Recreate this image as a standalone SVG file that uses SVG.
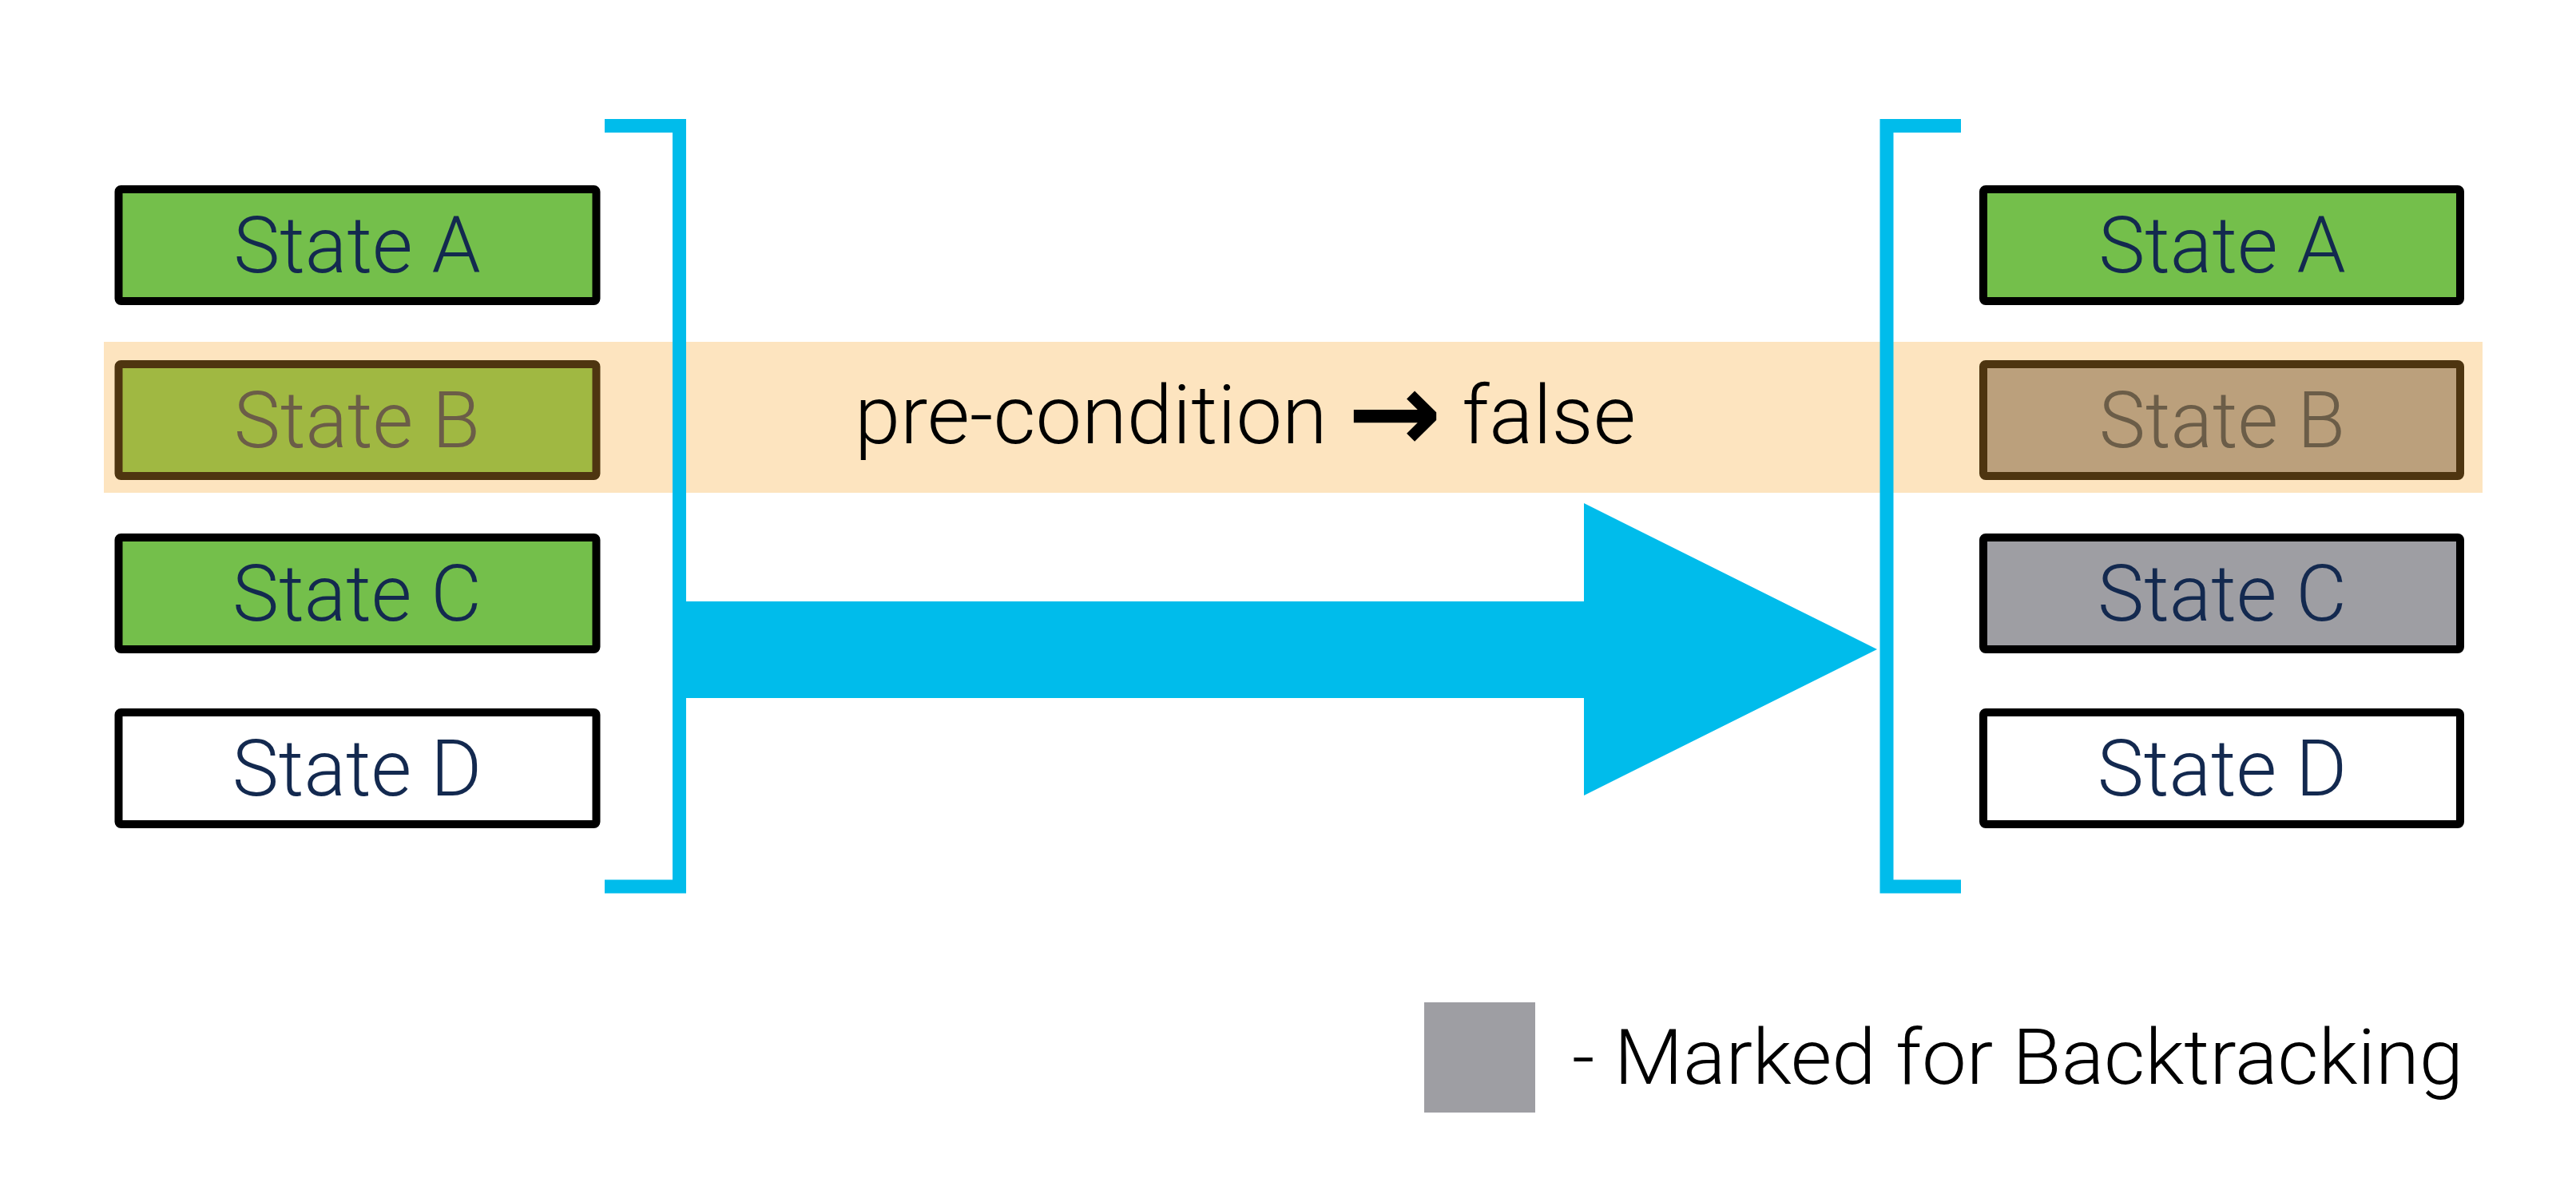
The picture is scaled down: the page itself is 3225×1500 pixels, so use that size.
<svg xmlns="http://www.w3.org/2000/svg" width="3225" height="1500" viewBox="0 0 3225 1500">
<style>
.box{stroke:#000;stroke-width:10}
.lbl{font-family:Roboto,"Liberation Sans",sans-serif;font-weight:300;font-size:98px;text-anchor:middle;fill:#13294f}
.lblb{fill:#6b5d48}
.brk{fill:none;stroke:#00bceb;stroke-width:17;stroke-linejoin:miter}
.txt{font-family:Roboto,"Liberation Sans",sans-serif;font-weight:300;fill:#000}
</style>
<rect width="3225" height="1500" fill="#fff"/>
<rect id="band" x="130" y="428" width="2978" height="189" fill="#fde4bf"/>
<g id="left-a"><rect class="box" x="148.5" y="237" width="598" height="140" rx="3" fill="#74bf4b"/><text class="lbl" x="447" y="341">State A</text></g>
<g id="left-b"><rect class="box" x="148.5" y="456" width="598" height="140" rx="3" fill="#a0b842" style="stroke:#4e3510"/><text class="lbl lblb" x="447" y="560">State B</text></g>
<g id="left-c"><rect class="box" x="148.5" y="673" width="598" height="140" rx="3" fill="#74bf4b"/><text class="lbl" x="447" y="777">State C</text></g>
<g id="left-d"><rect class="box" x="148.5" y="892" width="598" height="140" rx="3" fill="#fff"/><text class="lbl" x="447" y="996">State D</text></g>
<g id="right-a"><rect class="box" x="2483" y="237" width="597" height="140" rx="3" fill="#74bf4b"/><text class="lbl" x="2782" y="341">State A</text></g>
<g id="right-b"><rect class="box" x="2483" y="456" width="597" height="140" rx="3" fill="#bba07c" style="stroke:#4e3510"/><text class="lbl lblb" x="2782" y="560">State B</text></g>
<g id="right-c"><rect class="box" x="2483" y="673" width="597" height="140" rx="3" fill="#9e9ea3"/><text class="lbl" x="2782" y="777">State C</text></g>
<g id="right-d"><rect class="box" x="2483" y="892" width="597" height="140" rx="3" fill="#fff"/><text class="lbl" x="2782" y="996">State D</text></g>
<g id="connectors">
<path class="brk" d="M757,157.5 H850.5 V1110 H757"/>
<path class="brk" d="M2455,157.5 H2362 V1110 H2455"/>
<polygon points="859,753 1983,753 1983,630 2350,813 1983,996 1983,874 859,874" fill="#00bceb"/>
</g>
<g id="condition"><text class="txt" x="1070" y="555" font-size="102" textLength="978" lengthAdjust="spacingAndGlyphs">pre-condition <tspan font-family="'DejaVu Sans',sans-serif" font-weight="bold" font-size="140" dy="10">→</tspan><tspan dy="-10"> false</tspan></text></g>
<g id="legend">
<rect x="1783" y="1255" width="139" height="138" fill="#9e9ea3"/>
<text class="txt" x="1968" y="1357" font-size="97" textLength="1116" lengthAdjust="spacingAndGlyphs">- Marked for Backtracking</text>
</g>
</svg>
